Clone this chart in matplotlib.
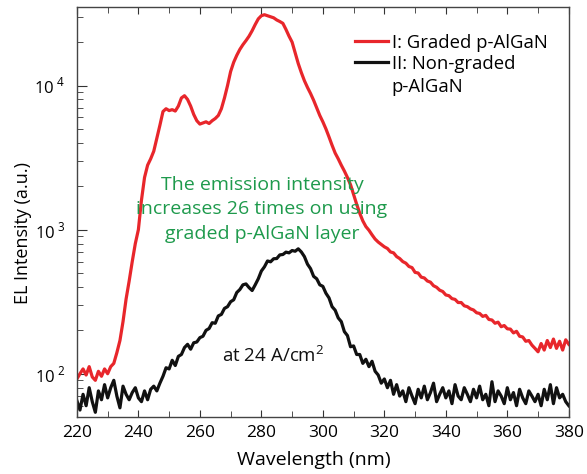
import numpy as np
import matplotlib
matplotlib.use('Agg')
import matplotlib.pyplot as plt
from matplotlib.ticker import MultipleLocator, LogLocator, FixedLocator, FixedFormatter, NullFormatter

plt.rcParams['font.family'] = ['Open Sans', 'DejaVu Sans']
plt.rcParams['mathtext.fontset'] = 'custom'
plt.rcParams['mathtext.rm'] = 'Open Sans'

# wavelength grid (nm), 1 nm steps
wavelength = list(range(220, 381))

# I: graded p-AlGaN (red)
graded = [
    92, 100, 108, 98, 112, 95, 90, 104, 96, 108,          # 220-229
    100, 112, 118, 140, 170, 230, 330, 440, 600, 800,     # 230-239
    1000, 1600, 2300, 2800, 3100, 3500, 4300, 5300, 6600, 6900,  # 240-249
    6700, 6800, 6650, 7200, 8200, 8500, 8000, 7200, 6300, 5700,  # 250-259
    5400, 5500, 5600, 5450, 5700, 5900, 6200, 6900, 8200, 10000,  # 260-269
    12500, 14500, 16200, 17800, 19200, 20500, 22000, 24000, 26500, 29000,  # 270-279
    30500, 31000, 30500, 30000, 29500, 28500, 27800, 27000, 24500, 22000,  # 280-289
    20000, 16800, 14200, 12300, 10800, 9700, 8800, 7900, 7000, 6200,  # 290-299
    5600, 5000, 4400, 3850, 3400, 3100, 2800, 2550, 2300, 2050,  # 300-309
    1750, 1500, 1300, 1150, 1050, 990, 920, 860, 820, 790,  # 310-319
    760, 740, 700, 690, 650, 630, 600, 585, 555, 545,  # 320-329
    505, 500, 468, 462, 440, 432, 408, 398, 380, 372,  # 330-339
    352, 348, 332, 328, 312, 312, 296, 292, 282, 277,  # 340-349
    265, 262, 250, 254, 238, 236, 224, 228, 212, 216,  # 350-359
    205, 204, 192, 197, 182, 180, 168, 170, 158, 150,  # 360-369
    142, 162, 146, 170, 152, 174, 150, 168, 146, 172,  # 370-379
    160,                                                    # 380
]

# II: non-graded p-AlGaN (black)
nongraded = [
    65, 56, 72, 60, 80, 64, 54, 76, 66, 84,        # 220-229
    68, 80, 90, 70, 58, 82, 72, 66, 74, 80,        # 230-239
    68, 64, 76, 66, 78, 82, 76, 86, 96, 110,       # 240-249
    108, 124, 114, 132, 136, 152, 160, 148, 164, 166,  # 250-259
    178, 182, 200, 206, 226, 224, 252, 258, 284, 292,  # 260-269
    316, 326, 366, 384, 414, 420, 396, 378, 414, 456,  # 270-279
    516, 552, 606, 598, 628, 630, 668, 672, 698, 690,  # 280-289
    716, 708, 736, 700, 650, 576, 536, 474, 456, 414,  # 290-299
    404, 362, 336, 292, 276, 244, 230, 196, 184, 154,  # 300-309
    156, 136, 136, 118, 126, 112, 122, 104, 98, 86,    # 310-319
    92, 80, 90, 72, 84, 70, 76, 64, 80, 70,            # 320-329
    62, 78, 68, 82, 66, 74, 86, 64, 72, 80,            # 330-339
    68, 76, 62, 84, 70, 66, 80, 72, 64, 78,            # 340-349
    68, 82, 66, 72, 60, 88, 64, 76, 70, 62,            # 350-359
    80, 66, 74, 60, 78, 68, 62, 76, 70, 64,            # 360-369
    72, 60, 78, 66, 84, 62, 80, 68, 72, 64,            # 370-379
    60,                                                # 380
]

y_ticks = [100, 1000, 10000]
y_labels = [r'10$^{\,\,2}$', r'10$^{\,\,3}$', r'10$^{\,\,4}$']

fig = plt.figure(figsize=(5.87, 4.74), dpi=100)
ax = fig.add_axes([0.131, 0.120, 0.838, 0.865])

l1, = ax.plot(wavelength, graded, color='#e8262b', lw=2.3)
l2, = ax.plot(wavelength, nongraded, color='#111111', lw=2.3)

ax.set_yscale('log')
ax.set_xlim(220, 380)
ax.set_ylim(50, 35000)

ax.xaxis.set_major_locator(MultipleLocator(20))
ax.xaxis.set_minor_locator(MultipleLocator(10))
ax.yaxis.set_major_locator(FixedLocator(y_ticks))
ax.yaxis.set_major_formatter(FixedFormatter(y_labels))
ax.yaxis.set_minor_locator(LogLocator(base=10, subs=np.arange(2, 10)))
ax.yaxis.set_minor_formatter(NullFormatter())

ax.tick_params(axis='x', which='both', direction='in', top=True, labelsize=12.5, pad=6, color='#333333')
ax.tick_params(axis='x', which='major', length=5)
ax.tick_params(axis='x', which='minor', length=4)
ax.tick_params(axis='y', which='both', direction='in', right=False, labelsize=12, color='#333333')
ax.tick_params(axis='y', which='major', length=7, pad=8)
ax.tick_params(axis='y', which='minor', length=4)

for sp in ax.spines.values():
    sp.set_color('#444444')
    sp.set_linewidth(1.0)

ax.set_xlabel('Wavelength (nm)', fontsize=14, labelpad=7, x=0.482)
ax.set_ylabel('EL Intensity (a.u.)', fontsize=13, labelpad=2, y=0.449)

# legend: second label wraps, handle sits on its first line
leg = ax.legend([l1, l2], ['I: Graded p-AlGaN', 'II: Non-graded'], loc='upper left',
                bbox_to_anchor=(0.565, 0.935), frameon=False, fontsize=13.3,
                handlelength=1.8, handletextpad=0.2, labelspacing=0.15,
                borderaxespad=0, borderpad=0)
# drawn after the legend (higher zorder) so the legend text is already placed
ax.annotate('p-AlGaN', xy=(0, 0), xycoords=leg.get_texts()[1], xytext=(0, -4),
            textcoords='offset points', ha='left', va='top', fontsize=13.3, zorder=10)

ax.text(280.2, 1380, 'The emission intensity\nincreases 26 times on using\ngraded p-AlGaN layer',
        color='#1e9a4c', fontsize=14, ha='center', va='center', linespacing=1.45)
ax.text(267.2, 133, r'at 24 A/cm$^2$', color='#111111', fontsize=13.5, ha='left', va='center')

fig.savefig('out.png', dpi=100)
